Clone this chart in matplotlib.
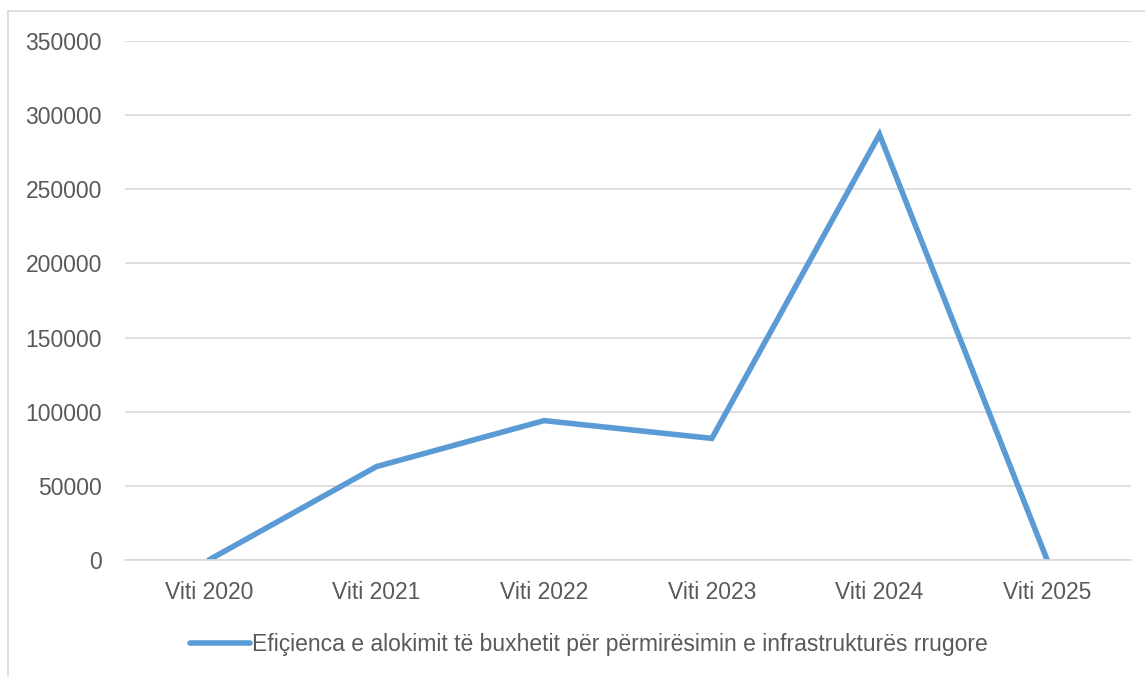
import matplotlib.pyplot as plt
from matplotlib.patches import Rectangle

# te dhenat
vitet = ["Viti 2020", "Viti 2021", "Viti 2022", "Viti 2023", "Viti 2024", "Viti 2025"]
vlerat = [0, 63000, 94000, 82000, 287000, 0]
seria = "Efiçienca e alokimit të buxhetit për përmirësimin e infrastrukturës rrugore"

W, H = 1145, 677
fig = plt.figure(figsize=(W / 100, H / 100), dpi=100)
plt.rcParams['font.family'] = ['Liberation Sans', 'DejaVu Sans']

# korniza e grafikut (pjeserisht jashte fotos)
fig.patches.append(Rectangle((8 / W, -0.1), 1.2, 1 - 11 / H + 0.1, transform=fig.transFigure,
                             fill=False, edgecolor='#d9d9d9', linewidth=1.2))

ax = fig.add_axes([125 / W, 1 - 560 / H, (1131 - 125) / W, (560 - 41) / H])
x = range(len(vitet))
ax.plot(x, vlerat, color='#5b9bd5', linewidth=4, solid_capstyle='round',
        solid_joinstyle='miter', label=seria)

ax.set_xlim(-0.5, len(vitet) - 0.5)
ax.set_ylim(0, 350000)
ax.set_yticks(range(0, 350001, 50000))
ax.set_xticks(list(x))
ax.set_xticklabels(vitet)
ax.grid(axis='y', color='#d9d9d9', linewidth=1.2)
ax.set_axisbelow(True)
for s in ['top', 'right', 'left']:
    ax.spines[s].set_visible(False)
ax.spines['bottom'].set_color('#d9d9d9')
ax.spines['bottom'].set_linewidth(1.2)
ax.tick_params(axis='both', length=0, labelcolor='#595959', labelsize=16.5)
ax.tick_params(axis='y', pad=16.5)
ax.tick_params(axis='x', pad=15)

leg = fig.legend(loc='center', bbox_to_anchor=(589 / W, 1 - 645 / H), frameon=False,
                 fontsize=16.5, handlelength=2.6, handletextpad=0.1)
for t in leg.get_texts():
    t.set_color('#595959')

fig.savefig('out.png', dpi=100)
